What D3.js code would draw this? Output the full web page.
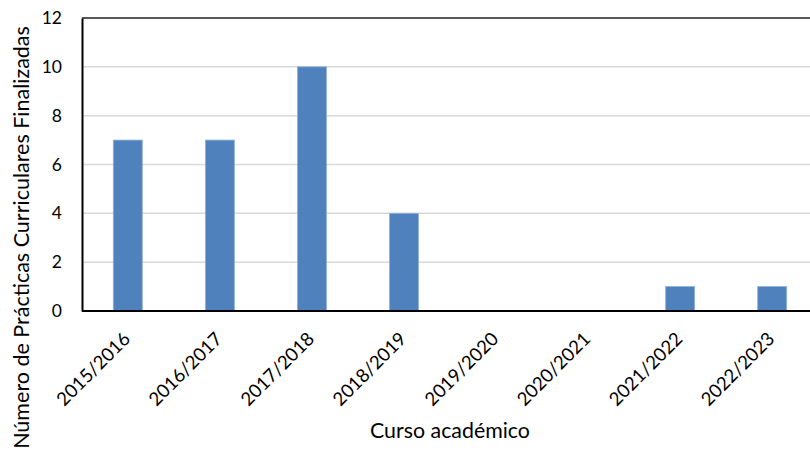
<!DOCTYPE html>
<html><head><meta charset="utf-8">
<script src="https://cdn.jsdelivr.net/npm/d3@7"></script>
<style>body{margin:0;background:#fff}svg{display:block}text{font-family:Lato,"Open Sans",sans-serif;fill:#000}</style>
</head><body><svg id="c" width="810" height="450"></svg>
<script>
const categories = ["2015/2016","2016/2017","2017/2018","2018/2019","2019/2020","2020/2021","2021/2022","2022/2023"];
const values = [7,7,10,4,0,0,1,1];
const yTicks = [0,2,4,6,8,10,12];
const yTitle = "Número de Prácticas Curriculares Finalizadas";
const xTitle = "Curso académico";

const svg = d3.select("#c");
const m = {left:82, top:18, right:818, bottom:311};
const x = d3.scaleBand().domain(categories).range([m.left, m.right]).paddingInner(0.685).paddingOuter(0.34);
const y = d3.scaleLinear().domain([0,12]).range([m.bottom, m.top]);

// scale font so a text node reaches a target length
function fit(node, target){
  const s = parseFloat(node.getAttribute("font-size"));
  const L = node.getComputedTextLength();
  if (L>0) node.setAttribute("font-size", (s*target/L).toFixed(2));
}

// gridlines
svg.append("g").selectAll("line").data(yTicks.filter(d=>d>0 && d<12)).join("line")
  .attr("x1", m.left).attr("x2", 810).attr("y1", d=>y(d)).attr("y2", d=>y(d))
  .attr("stroke","#d9d9d9").attr("stroke-width",1.5);
// top border
svg.append("line").attr("x1",m.left).attr("x2",810).attr("y1",y(12)).attr("y2",y(12)).attr("stroke","#222").attr("stroke-width",1.5);

// bars
svg.append("g").selectAll("rect").data(categories.map((c,i)=>({c,v:values[i]}))).join("rect")
  .attr("x", d=>x(d.c)).attr("width", x.bandwidth())
  .attr("y", d=>y(d.v)).attr("height", d=>y(0)-y(d.v))
  .attr("fill","#4f81bd").attr("stroke","#8eb0dc").attr("stroke-width",0.8);

// y axis
const ya = svg.append("g").attr("transform",`translate(${m.left},0)`)
  .call(d3.axisLeft(y).tickValues(yTicks).tickSize(0).tickPadding(20));
ya.select(".domain").attr("stroke","#000").attr("stroke-width",2);
ya.selectAll("text").attr("font-size",17.5).attr("font-family","Lato");

// x axis
const xa = svg.append("g").attr("transform",`translate(0,${m.bottom})`)
  .call(d3.axisBottom(x).tickSize(0).tickFormat(d=>d));
xa.select(".domain").attr("stroke","#000").attr("stroke-width",2).attr("d",`M${m.left},0H810`);
const catSize = 18.6;
xa.selectAll("text").attr("font-size",catSize).attr("font-family","Lato")
  .attr("text-anchor","end").attr("dy",0).attr("y",0)
  .attr("transform","translate(3.5,29) rotate(-45)");

const xt = svg.append("text").attr("x",450).attr("y",438).attr("text-anchor","middle").attr("font-size",21).text(xTitle);
fit(xt.node(),160);
const yt = svg.append("text").attr("transform","translate(28.5,237.5) rotate(-90)").attr("text-anchor","middle").attr("font-size",20).text(yTitle);
fit(yt.node(),423);
</script></body></html>
